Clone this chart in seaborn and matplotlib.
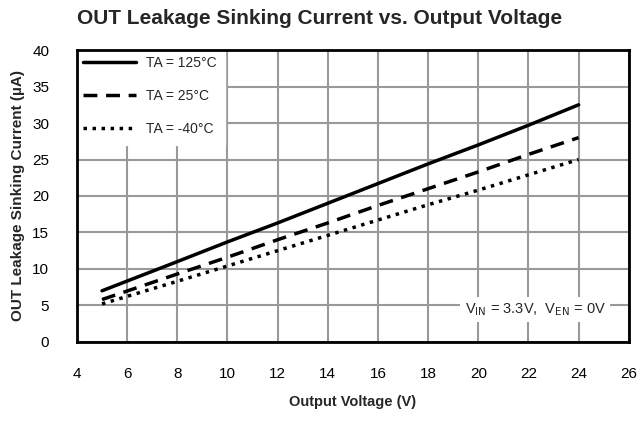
import pandas as pd
import numpy as np
import matplotlib.pyplot as plt
import seaborn as sns

# readings from the picture
voltage = [5, 8, 10, 12, 14, 16, 18, 20, 22, 24]
i_125 = [7.0, 11.0, 13.7, 16.3, 19.0, 21.7, 24.4, 27.0, 29.7, 32.5]
i_25 = [5.8, 9.3, 11.6, 14.0, 16.3, 18.7, 21.0, 23.3, 25.7, 28.0]
i_m40 = [5.2, 8.3, 10.4, 12.5, 14.6, 16.7, 18.8, 20.8, 22.9, 25.0]
labels = ['TA = 125°C', 'TA = 25°C', 'TA = -40°C']

df = pd.concat([
    pd.DataFrame({'V': voltage, 'I': vals, 'TA': lab})
    for vals, lab in zip([i_125, i_25, i_m40], labels)
])

sns.set_style('white')
plt.rcParams['font.family'] = ['Liberation Sans', 'DejaVu Sans']

fig = plt.figure(figsize=(6.41, 4.21), dpi=100)
ax = fig.add_axes([0.120, 0.188, 0.861, 0.693])

sns.lineplot(data=df, x='V', y='I', style='TA', hue='TA',
             palette=['black'] * 3,
             dashes={labels[0]: '', labels[1]: (4, 2.5), labels[2]: (1, 1.6)},
             linewidth=2.5, ax=ax)

ax.set_xlim(4, 26)
ax.set_ylim(0, 40)
ax.set_xticks(np.arange(4, 27, 2))
ax.set_yticks(np.arange(0, 41, 5))
ax.grid(True, color='#999999', linewidth=1.5)
ax.set_axisbelow(True)
for s in ax.spines.values():
    s.set_color('black')
    s.set_linewidth(2)
    s.set_zorder(10)
ax.tick_params(direction='in', length=4, width=1.5, colors='black', labelsize=11, pad=18)
ax.tick_params(axis='y', pad=20)

ax.set_xlabel('Output Voltage (V)', fontsize=10.5, fontweight='bold', labelpad=10)
ax.set_ylabel('OUT Leakage Sinking Current (µA)', fontsize=11, fontweight='bold', labelpad=5)
fig.text(0.498, 1 - 18 / 421, 'OUT Leakage Sinking Current vs. Output Voltage',
         ha='center', va='center', fontsize=15, fontweight='bold')

leg = ax.legend(loc='upper left', frameon=True, fontsize=10, handlelength=3.8,
                borderaxespad=0.0, labelspacing=1.35, handletextpad=0.7,
                borderpad=0.45)
leg.get_frame().set_edgecolor('white')
leg.get_frame().set_facecolor('white')
leg.get_frame().set_alpha(1)
leg.get_frame().set_boxstyle('square', pad=0.2)

ax.text(0.958, 0.11, r'V$_{\rm IN}$ = 3.3V,  V$_{\rm EN}$ = 0V', transform=ax.transAxes,
        ha='right', va='center', fontsize=10.5,
        bbox=dict(facecolor='white', edgecolor='none', pad=3))

fig.savefig('out.png', dpi=100)
